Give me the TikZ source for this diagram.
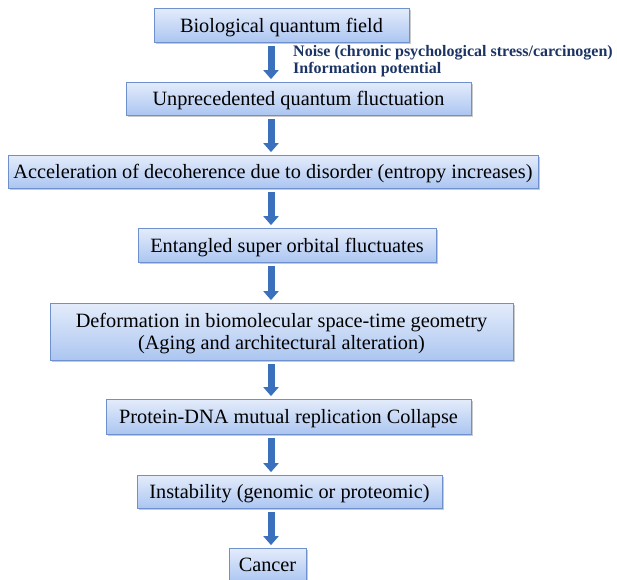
\documentclass[tikz,border=0pt]{standalone}
\usepackage{fontspec}
\setmainfont{Liberation Serif}
\usetikzlibrary{arrows.meta,shadows}
\definecolor{boxtop}{RGB}{228,236,251}
\definecolor{boxbot}{RGB}{172,198,241}
\definecolor{boxline}{RGB}{110,145,205}
\definecolor{arrowblue}{RGB}{58,112,188}
\definecolor{notecol}{RGB}{28,52,100}
\tikzset{
  flowbox/.style={draw=boxline, line width=0.8pt, top color=boxtop, bottom color=boxbot,
    inner sep=0pt, align=center, font=\fontsize{20.3}{22}\selectfont, text depth=0pt,
    drop shadow={shadow xshift=1.5pt, shadow yshift=-1.8pt, opacity=0.35, fill=black!60}},
  flowarrow/.style={draw=arrowblue, line width=7pt,
    -{Triangle[width=15pt,length=9pt]}, shorten <=3.5pt, shorten >=2.5pt},
  notetext/.style={font=\bfseries\fontsize{16}{17.5}\selectfont, text=notecol, align=left, inner sep=0pt}
}
\begin{document}
\begin{tikzpicture}[x=1pt,y=-1pt]
\useasboundingbox (0,0) rectangle (617,579);
\node[flowbox, minimum width=255pt, minimum height=34pt] (n1) at (281.5,25) {Biological quantum field};
\node[flowbox, minimum width=345pt, minimum height=33pt] (n2) at (298.5,98.5) {Unprecedented quantum fluctuation};
\node[flowbox, minimum width=530pt, minimum height=33pt] (n3) at (273,171.5) {Acceleration of decoherence due to disorder (entropy increases)};
\node[flowbox, minimum width=298pt, minimum height=34pt] (n4) at (287,245) {Entangled super orbital fluctuates};
\node[flowbox, minimum width=463pt, minimum height=57pt] (n5) at (281.5,331.5) {Deformation in biomolecular space-time geometry\\(Aging and architectural alteration)};
\node[flowbox, minimum width=365pt, minimum height=35pt] (n6) at (288.5,416.5) {Protein-DNA mutual replication Collapse};
\node[flowbox, minimum width=305pt, minimum height=33pt] (n7) at (289.5,491.5) {Instability (genomic or proteomic)};
\node[flowbox, minimum width=77pt, minimum height=34pt] (n8) at (267.5,565) {Cancer};
\node[notetext, anchor=north west] (note) at (293,45) {Noise (chronic psychological stress/carcinogen)\\Information potential};
\coordinate (ax) at (271,0);
\draw[flowarrow] (n1.south -| ax) -- (n2.north -| ax);
\draw[flowarrow] (n2.south -| ax) -- (n3.north -| ax);
\draw[flowarrow] (n3.south -| ax) -- (n4.north -| ax);
\draw[flowarrow] (n4.south -| ax) -- (n5.north -| ax);
\draw[flowarrow] (n5.south -| ax) -- (n6.north -| ax);
\draw[flowarrow] (n6.south -| ax) -- (n7.north -| ax);
\draw[flowarrow] (n7.south -| ax) -- (n8.north -| ax);
\end{tikzpicture}
\end{document}
